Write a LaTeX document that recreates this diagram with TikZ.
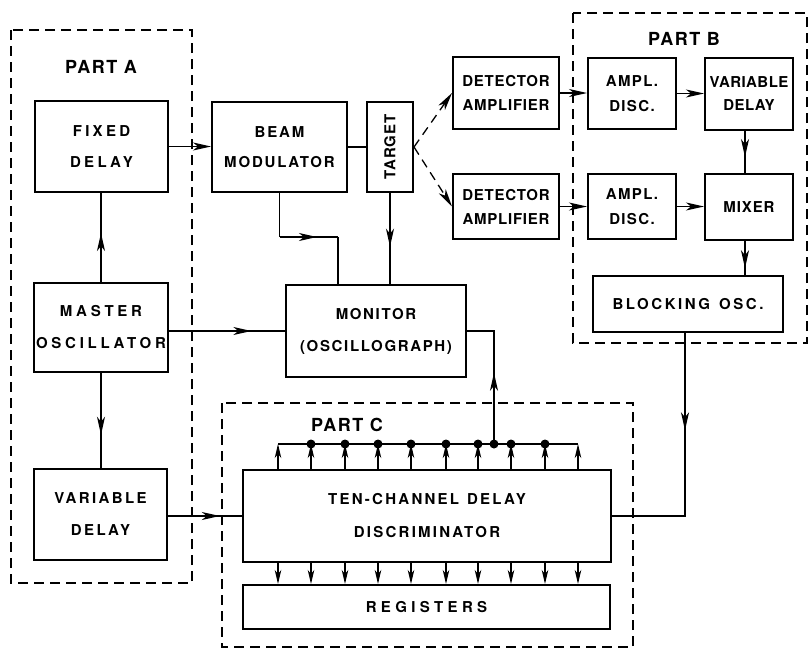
\documentclass[tikz,border=0pt]{standalone}
\usepackage{fontspec}
\setmainfont{TeX Gyre Heros}
\usetikzlibrary{arrows.meta,decorations.markings}
\begin{document}
\begin{tikzpicture}[x=1pt,y=-1pt,
  >={Stealth[length=18pt,width=8pt,inset=5pt]},
  sm/.tip={Stealth[length=14pt,width=6.5pt,inset=4pt]},
  box/.style={draw,line width=2pt,align=center,inner sep=0pt},
  sp/.style 2 args={font=\bfseries\fontsize{15}{#2}\selectfont\addfontfeature{LetterSpace=#1}},
  conn/.style={line width=1.3pt},
  part/.style={line width=1.4pt,dash pattern=on 10pt off 6pt},
  partlbl/.style={font=\bfseries\fontsize{18}{20}\selectfont\addfontfeature{LetterSpace=8}},
  midarr/.style={postaction={decorate,decoration={markings,mark=at position #1 with {\arrow{>}}}}},
  dot/.style={circle,fill,inner sep=0pt,minimum size=9pt}
]
\useasboundingbox (0,0) rectangle (809,651);

% part frames
\draw[part] (11,30) rectangle (192,583);
\draw[part] (573,13) rectangle (807,343);
\draw[part] (222,403) rectangle (633,647);
\node[partlbl] (pA) at (101,67) {PART A};
\node[partlbl] (pB) at (684,39) {PART B};
\node[partlbl] (pC) at (347,425) {PART C};

% boxes
\node[box,sp={22}{31},minimum width=133pt,minimum height=91pt] (fixed) at (101.5,146.5) {FIXED\\DELAY};
\node[box,sp={25}{32},minimum width=134pt,minimum height=89pt] (master) at (101,327.5) {MASTER\\OSCILLATOR};
\node[box,sp={16}{32},minimum width=133pt,minimum height=91pt] (varA) at (100.5,514.5) {VARIABLE\\DELAY};
\node[box,sp={12}{30},minimum width=135pt,minimum height=90pt] (beam) at (279.5,147) {BEAM\\MODULATOR};
\node[box,minimum width=46pt,minimum height=90pt] (target) at (390,147) {};
\node[sp={7}{16},rotate=90] (targettxt) at (target.center) {TARGET};
\node[box,sp={11}{32},minimum width=180pt,minimum height=92pt] (monitor) at (376,331) {MONITOR\\(OSCILLOGRAPH)};
\node[box,sp={5}{24},minimum width=106pt,minimum height=72pt] (detA) at (506,93) {DETECTOR\\AMPLIFIER};
\node[box,sp={5}{24},minimum width=106pt,minimum height=65pt] (detB) at (506,206.5) {DETECTOR\\AMPLIFIER};
\node[box,sp={9}{25},minimum width=88pt,minimum height=71pt] (adA) at (632,93.5) {AMPL.\\DISC.};
\node[box,sp={9}{25},minimum width=88pt,minimum height=65pt] (adB) at (632,206.5) {AMPL.\\DISC.};
\node[box,sp={3}{23},minimum width=88pt,minimum height=72pt] (vdB) at (749,94) {VARIABLE\\DELAY};
\node[box,sp={6}{24},minimum width=88pt,minimum height=66pt] (mixer) at (749,207) {MIXER};
\node[box,sp={17}{24},minimum width=190pt,minimum height=56pt] (block) at (688,304) {BLOCKING\hspace{9pt}OSC.};
\node[box,sp={15}{33},minimum width=368pt,minimum height=92pt] (disc) at (427,516) {TEN-CHANNEL\hspace{8pt}DELAY\\DISCRIMINATOR};
\node[box,sp={29}{24},minimum width=367pt,minimum height=44pt] (reg) at (426.5,607) {REGISTERS};

% connectors
\draw[conn,->] (fixed.east) -- (fixed.east -| beam.west);
\draw[conn,midarr=0.55] (master.north) -- (master.north |- fixed.south);
\draw[conn,midarr=0.65] (master.south) -- (master.south |- varA.north);
\draw[conn,midarr=0.71] (master.east |- monitor.west) -- (monitor.west);
\draw[conn,midarr=0.70] (varA.east |- disc.west) -- (disc.west);
\draw[conn] (beam.east) -- (beam.east -| target.west);
\coordinate (bm) at (338,237);
\draw[conn] (beam.south) -- (beam.south |- bm);
\draw[conn,midarr=0.64] (beam.south |- bm) -- (bm);
\draw[conn] (bm) -- (bm |- monitor.north);
\draw[conn,midarr=0.59] (target.south) -- (target.south |- monitor.north);
\draw[conn,dash pattern=on 9pt off 6pt,->] (target.east) -- (detA.west);
\draw[conn,dash pattern=on 9pt off 6pt,->] (target.east) -- (detB.west);
\draw[conn,->] (detA.east) -- (detA.east -| adA.west);
\draw[conn,->] (adA.east) -- (adA.east -| vdB.west);
\draw[conn,->] (detB.east) -- (detB.east -| adB.west);
\draw[conn,->] (adB.east) -- (adB.east -| mixer.west);
\draw[conn,midarr=0.62] ([xshift=-4pt]vdB.south) -- ([xshift=-4pt]mixer.north);
\draw[conn,midarr=0.8] ([xshift=-4pt]mixer.south) -- ([xshift=-4pt]mixer.south |- block.north);
\coordinate (bd) at (685,516);
\draw[conn,midarr=0.38] ([xshift=-3pt]block.south) -- (bd) -- (bd -| disc.east);

% bus
\coordinate (jn) at (494,444);
\draw[conn] (278,444) -- (578,444);
\foreach \x/\n in {278/1,311/2,345/3,378/4,411/5,446/6,478/7,511/8,545/9,578/10} {
  \coordinate (b\n) at (\x,444);
  \draw[conn,-sm] (b\n |- disc.north) -- (b\n);
  \draw[conn,-sm] (b\n |- disc.south) -- (b\n |- reg.north);
}
\foreach \n in {2,...,9} { \node[dot] (d\n) at (b\n) {}; }
\node[dot] (dj) at (jn) {};
\draw[conn] (jn) |- (monitor.east);
\draw[conn,midarr=0.63] (jn) -- (jn |- monitor.east);
\end{tikzpicture}
\end{document}
